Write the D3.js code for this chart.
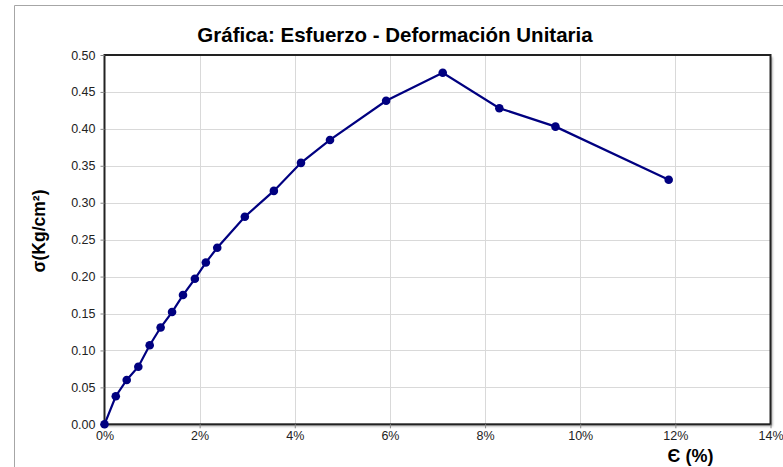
<!DOCTYPE html>
<html><head><meta charset="utf-8">
<script src="https://cdn.jsdelivr.net/npm/d3@7"></script>
<style>body{margin:0;background:#fff;}svg{display:block;font-family:"Liberation Sans",Arial,sans-serif;}</style>
</head><body>
<svg id="c" width="783" height="467"></svg>
<script>
const strainPct = [0, 0.237, 0.467, 0.711, 0.95, 1.18, 1.42, 1.65, 1.90, 2.13, 2.37, 2.95, 3.56, 4.13, 4.74, 5.92, 7.11, 8.30, 9.48, 11.86];
const stress = [0, 0.038, 0.060, 0.078, 0.107, 0.131, 0.152, 0.175, 0.197, 0.219, 0.239, 0.281, 0.316, 0.354, 0.385, 0.438, 0.476, 0.428, 0.403, 0.331];
const xTicks = [0, 2, 4, 6, 8, 10, 12, 14];
const yTicks = [0, 0.05, 0.10, 0.15, 0.20, 0.25, 0.30, 0.35, 0.40, 0.45, 0.50];
const title = "Gráfica: Esfuerzo - Deformación Unitaria";
const xLabel = "Є (%)";
const yLabel = "σ(Kg/cm²)";

const svg = d3.select("#c");
const L = 104.5, R = 770.5, T = 55, B = 424.3;
const x = d3.scaleLinear().domain([0, 14]).range([L, R]);
const y = d3.scaleLinear().domain([0, 0.5]).range([B, T]);

// outer chart border
svg.append("path").attr("d", `M14.5,467 V5.5 H783`).attr("fill","none").attr("stroke","#a6a6a6").attr("stroke-width",1);

// shadow
const defs = svg.append("defs");
const f = defs.append("filter").attr("id","sh").attr("x","-5%").attr("y","-5%").attr("width","115%").attr("height","115%");
f.append("feDropShadow").attr("dx",2).attr("dy",2).attr("stdDeviation",1.2).attr("flood-color","#000").attr("flood-opacity",0.35);
svg.append("rect").attr("x",L).attr("y",T).attr("width",R-L).attr("height",B-T).attr("fill","#fff").attr("filter","url(#sh)");

// grid
const g = svg.append("g");
g.selectAll(".gx").data(xTicks.slice(1,-1)).join("line")
  .attr("x1",d=>Math.round(x(d))+0.5).attr("x2",d=>Math.round(x(d))+0.5).attr("y1",T).attr("y2",B)
  .attr("stroke","#d9d9d9").attr("stroke-width",1);
g.selectAll(".gy").data(yTicks.slice(1,-1)).join("line")
  .attr("y1",d=>Math.round(y(d))+0.5).attr("y2",d=>Math.round(y(d))+0.5).attr("x1",L).attr("x2",R)
  .attr("stroke","#d9d9d9").attr("stroke-width",1);

// frame
svg.append("rect").attr("x",L).attr("y",T).attr("width",R-L).attr("height",B-T)
  .attr("fill","none").attr("stroke","#222").attr("stroke-width",2);

// axes
const xa = svg.append("g").attr("transform",`translate(0,${B})`)
  .call(d3.axisBottom(x).tickValues(xTicks).tickFormat(d=>d+"%").tickSize(4).tickPadding(3));
const ya = svg.append("g").attr("transform",`translate(${L},0)`)
  .call(d3.axisLeft(y).tickValues(yTicks).tickFormat(d3.format(".2f")).tickSize(4).tickPadding(5));
[xa, ya].forEach(a=>{
  a.select(".domain").remove();
  a.selectAll("line").attr("stroke","#888");
  a.selectAll("text").attr("font-size","12.5px").attr("fill","#222").attr("font-family","Liberation Sans, Arial, sans-serif");
});

// line
const pts = strainPct.map((d,i)=>[d, stress[i]]);
svg.append("path").datum(pts)
  .attr("d", d3.line().x(d=>x(d[0])).y(d=>y(d[1])))
  .attr("fill","none").attr("stroke","#000080").attr("stroke-width",2.2);
svg.selectAll(".pt").data(pts).join("circle")
  .attr("cx",d=>x(d[0])).attr("cy",d=>y(d[1])).attr("r",4.3)
  .attr("fill","#000080");

// texts
svg.append("text").attr("x",395).attr("y",41.5).attr("text-anchor","middle")
  .attr("font-size","20.5px").attr("font-weight","bold").attr("fill","#000").text(title);
svg.append("text").attr("transform","translate(45,231) rotate(-90)").attr("text-anchor","middle")
  .attr("font-size","17.5px").attr("font-weight","bold").attr("fill","#000").text(yLabel);
svg.append("text").attr("x",690.5).attr("y",462).attr("text-anchor","middle")
  .attr("font-size","18px").attr("font-weight","bold").attr("fill","#000").text(xLabel);
</script>
</body></html>
